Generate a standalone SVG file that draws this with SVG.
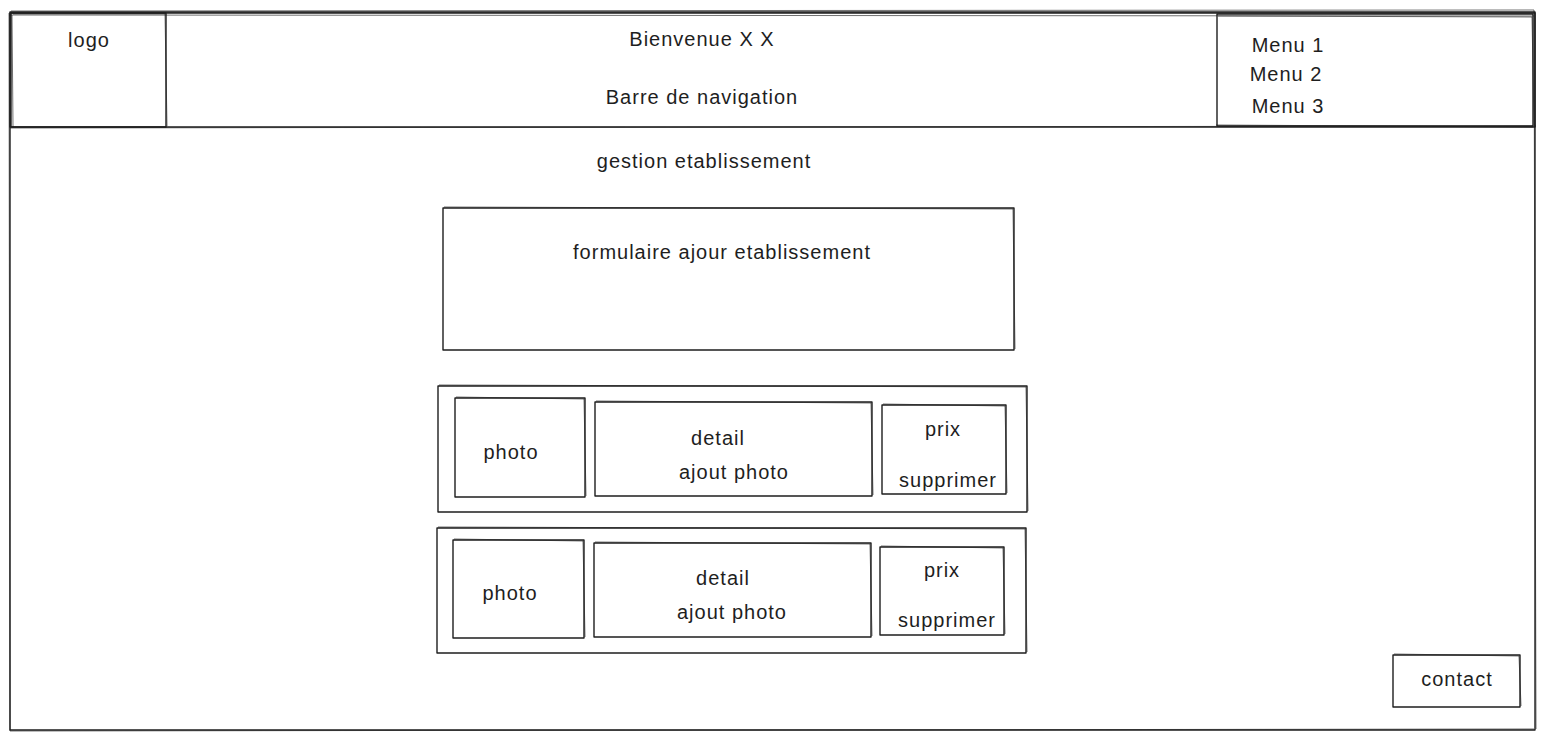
<svg xmlns="http://www.w3.org/2000/svg" width="1545" height="740" viewBox="0 0 1545 740">
<style>
.b{fill:none;stroke:#1e1e1e;stroke-width:1.4;stroke-linejoin:round}
.s{fill:none;stroke:#1e1e1e;stroke-width:0.8;opacity:0.8}
text{font-family:"Liberation Sans","DejaVu Sans",sans-serif;font-size:20px;letter-spacing:1px;fill:#1e1e1e;text-anchor:middle}
</style>
<rect width="1545" height="740" fill="#ffffff"/>
<g id="page">
<rect class="b" x="10" y="12" width="1525" height="718"/>
<path class="s" d="M11 11 L1534 10 L1536 729 M9 13 L10 731 L1534 729"/>
</g>
<g id="header">
<rect class="b" x="10" y="13" width="1525" height="114"/>
<path class="s" d="M9 15 L1534 16 M10 128 L1536 126"/>
</g>
<g id="logo">
<rect class="b" x="11" y="13" width="155" height="114"/>
<path class="s" d="M13 14 L165 14 L167 126 M12 15 L13 127"/>
<text x="89" y="47">logo</text>
</g>
<g id="nav">
<text x="702" y="46">Bienvenue X X</text>
<text x="702" y="104">Barre de navigation</text>
</g>
<g id="menu">
<rect class="b" x="1217" y="14" width="316" height="112"/>
<path class="s" d="M1218 16 L1532 17 L1534 125 M1216 125 L1533 127"/>
<text x="1288" y="52">Menu 1</text>
<text x="1286" y="81">Menu 2</text>
<text x="1288" y="113">Menu 3</text>
</g>
<g id="title">
<text x="704" y="168">gestion etablissement</text>
</g>
<g id="form">
<rect class="b" x="443" y="208" width="571" height="142"/>
<path class="s" d="M444 207 L1013 209 L1015 349"/>
<text x="722" y="259">formulaire ajour etablissement</text>
</g>
<g id="row1">
<rect class="b" x="438" y="386" width="589" height="126"/>
<path class="s" d="M439 385 L1026 387 L1028 511"/>
</g>
<g id="photo1">
<rect class="b" x="455" y="398" width="130" height="99"/>
<path class="s" d="M456 397 L584 399 L586 496"/>
<text x="511" y="459">photo</text>
</g>
<g id="detail1">
<rect class="b" x="595" y="402" width="277" height="94"/>
<path class="s" d="M596 401 L871 403 L873 495"/>
<text x="718" y="445">detail</text>
<text x="734" y="479">ajout photo</text>
</g>
<g id="prix1">
<rect class="b" x="882" y="405" width="124" height="89"/>
<path class="s" d="M883 404 L1005 406 L1007 493"/>
<text x="943" y="436">prix</text>
<text x="948" y="487">supprimer</text>
</g>
<g id="row2">
<rect class="b" x="437" y="528" width="589" height="125"/>
<path class="s" d="M438 527 L1025 529 L1027 652"/>
</g>
<g id="photo2">
<rect class="b" x="453" y="540" width="131" height="98"/>
<path class="s" d="M454 539 L583 541 L585 637"/>
<text x="510" y="600">photo</text>
</g>
<g id="detail2">
<rect class="b" x="594" y="543" width="277" height="94"/>
<path class="s" d="M595 542 L870 544 L872 636"/>
<text x="723" y="585">detail</text>
<text x="732" y="619">ajout photo</text>
</g>
<g id="prix2">
<rect class="b" x="880" y="547" width="124" height="88"/>
<path class="s" d="M881 546 L1003 548 L1005 634"/>
<text x="942" y="577">prix</text>
<text x="947" y="627">supprimer</text>
</g>
<g id="contact">
<rect class="b" x="1393" y="655" width="127" height="52"/>
<path class="s" d="M1394 654 L1519 656 L1521 706"/>
<text x="1457" y="686">contact</text>
</g>
<g id="connectors"></g>
</svg>
